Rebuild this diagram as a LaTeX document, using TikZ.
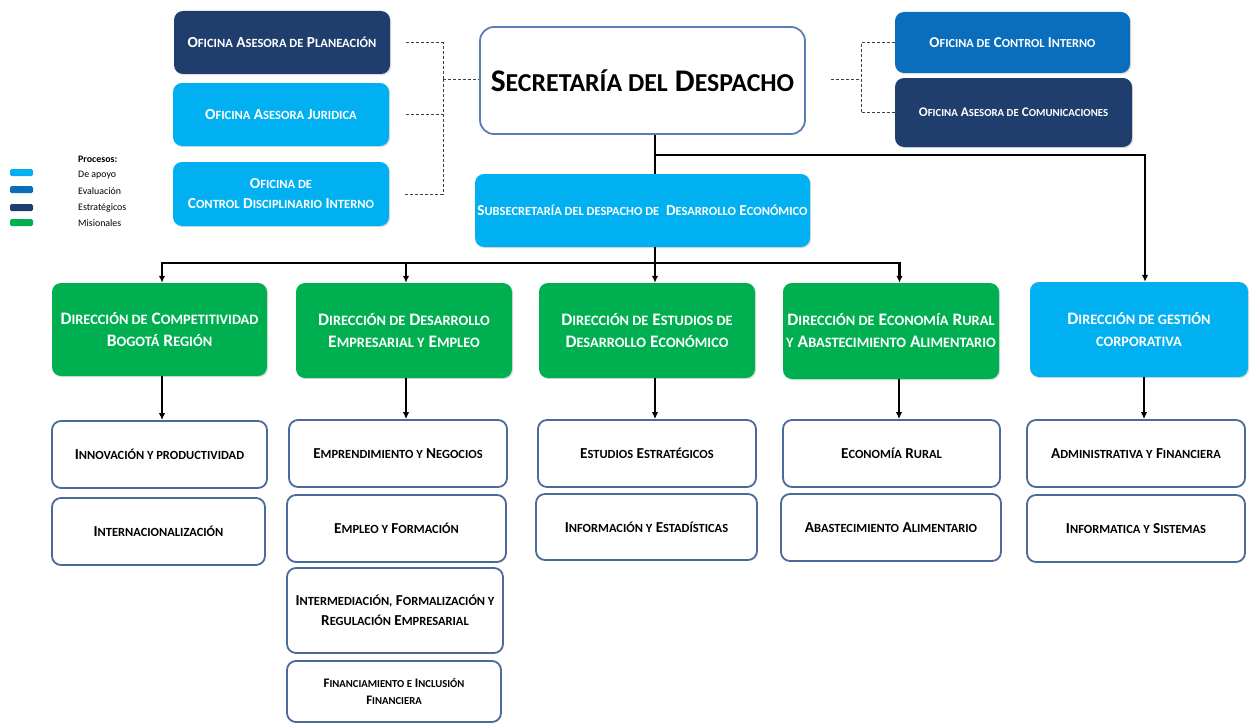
\documentclass[tikz,border=0pt]{standalone}
\usepackage{fontspec}
\setmainfont{Carlito}
\usetikzlibrary{arrows.meta,shadows}
\definecolor{navy}{HTML}{1F3E6E}
\definecolor{lblue}{HTML}{00B0F0}
\definecolor{mblue}{HTML}{0A6EBD}
\definecolor{mgreen}{HTML}{00B050}
\definecolor{bord}{HTML}{4A6A9C}
\definecolor{secbord}{HTML}{5B7DB5}
\makeatletter
\newcommand\lc[1]{{\fontsize{\dimexpr0.82\dimexpr\f@size pt\relax\relax}{\f@baselineskip}\selectfont #1}}
\makeatother
\tikzset{
  box/.style={rounded corners=9pt, align=center, inner sep=2pt},
  shad/.style={drop shadow={opacity=0.25, shadow xshift=1.2pt, shadow yshift=-1.2pt}},
  navybox/.style={box, shad, fill=navy, text=white},
  lbox/.style={box, shad, fill=lblue, text=white},
  mbox/.style={box, shad, fill=mblue, text=white},
  gbox/.style={box, shad, fill=mgreen, text=white, font=\fontsize{17.5}{22}\selectfont\bfseries},
  wbox/.style={box, draw=bord, line width=1.8pt, fill=white, text=black, font=\fontsize{15.2}{20}\selectfont\bfseries},
  ofont/.style={font=\fontsize{15.3}{20}\selectfont\bfseries},
  dline/.style={draw=black!75, line width=0.8pt, dash pattern=on 3pt off 2pt},
  conn/.style={draw=black, line width=2.2pt},
  arr/.style={conn, -{Latex[length=7pt,width=6.5pt]}},
  legbox/.style={rounded corners=1.5pt, minimum width=23pt, minimum height=7pt, inner sep=0pt},
  legtext/.style={anchor=west, inner sep=0pt, font=\fontsize{9.9}{11}\selectfont}
}
\begin{document}
\begin{tikzpicture}[x=1pt,y=-1pt]
\useasboundingbox[fill=white] (0,0) rectangle (1250,725);

% legend
\node[legtext] (lt0) at (78,159) {\textbf{Procesos:}};
\node[legbox, fill=lblue] (lg1) at (21.5,172.5) {};
\node[legbox, fill=mblue] (lg2) at (21.5,189.5) {};
\node[legbox, fill=navy] (lg3) at (21.5,207.5) {};
\node[legbox, fill=mgreen] (lg4) at (21.5,222.5) {};
\node[legtext] (lt1) at (78,175.5) {De apoyo};
\node[legtext] (lt2) at (78,191.5) {Evaluación};
\node[legtext] (lt3) at (78,207.5) {Estratégicos};
\node[legtext] (lt4) at (78,223.5) {Misionales};

% top offices
\node[navybox, ofont, minimum width=216pt, minimum height=63pt] (plan) at (282,42.5) {O\lc{FICINA} A\lc{SESORA DE} P\lc{LANEACIÓN}};
\node[lbox, ofont, minimum width=216pt, minimum height=63pt] (jur) at (281,114.5) {O\lc{FICINA} A\lc{SESORA} J\lc{URIDICA}};
\node[lbox, ofont, minimum width=216pt, minimum height=64pt] (cdi) at (281,194) {O\lc{FICINA DE}\\C\lc{ONTROL} D\lc{ISCIPLINARIO} I\lc{NTERNO}};
\node[box, draw=secbord, line width=1.8pt, fill=white, minimum width=325pt, minimum height=107pt, rounded corners=14pt, font=\fontsize{31.5}{38}\selectfont\bfseries] (sec) at (642.5,80.5) {S\lc{ECRETARÍA DEL} D\lc{ESPACHO}};
\node[mbox, minimum width=235pt, minimum height=61pt, font=\fontsize{15}{19}\selectfont\bfseries] (oci) at (1012.5,42.5) {O\lc{FICINA DE} C\lc{ONTROL} I\lc{NTERNO}};
\node[navybox, minimum width=237pt, minimum height=69pt, font=\fontsize{13.2}{17}\selectfont\bfseries] (com) at (1013.5,112.5) {O\lc{FICINA} A\lc{SESORA DE} C\lc{OMUNICACIONES}};
\node[lbox, minimum width=335pt, minimum height=73pt, inner sep=0pt, font=\fontsize{15.2}{20}\selectfont\bfseries] (sub) at (642.5,210.5) {S\lc{UBSECRETARÍA DEL DESPACHO DE}\ \ D\lc{ESARROLLO} E\lc{CONÓMICO}};

% directions
\node[gbox, minimum width=215pt, minimum height=93pt] (d1) at (159.5,329.5) {D\lc{IRECCIÓN DE} C\lc{OMPETITIVIDAD}\\B\lc{OGOTÁ} R\lc{EGIÓN}};
\node[gbox, minimum width=216pt, minimum height=95pt] (d2) at (404,330.5) {D\lc{IRECCIÓN DE} D\lc{ESARROLLO}\\E\lc{MPRESARIAL Y} E\lc{MPLEO}};
\node[gbox, minimum width=216pt, minimum height=95pt] (d3) at (647,330.5) {D\lc{IRECCIÓN DE} E\lc{STUDIOS DE}\\D\lc{ESARROLLO} E\lc{CONÓMICO}};
\node[gbox, minimum width=216pt, minimum height=96pt] (d4) at (891,331) {D\lc{IRECCIÓN DE} E\lc{CONOMÍA} R\lc{URAL}\\\lc{Y} A\lc{BASTECIMIENTO} A\lc{LIMENTARIO}};
\node[gbox, fill=lblue, minimum width=218pt, minimum height=95pt] (d5) at (1139,329.5) {D\lc{IRECCIÓN DE GESTIÓN}\\\lc{CORPORATIVA}};

% sub boxes
\node[wbox, minimum width=215pt, minimum height=67pt] (s11) at (159.5,454.5) {I\lc{NNOVACIÓN Y PRODUCTIVIDAD}};
\node[wbox, minimum width=213pt, minimum height=67pt] (s12) at (158.5,531.5) {I\lc{NTERNACIONALIZACIÓN}};
\node[wbox, minimum width=218pt, minimum height=67pt] (s21) at (398,453.5) {E\lc{MPRENDIMIENTO Y} N\lc{EGOCIOS}};
\node[wbox, minimum width=219pt, minimum height=67pt] (s22) at (396.5,528.5) {E\lc{MPLEO Y} F\lc{ORMACIÓN}};
\node[wbox, minimum width=216pt, minimum height=85pt] (s23) at (395,610.5) {I\lc{NTERMEDIACIÓN,} F\lc{ORMALIZACIÓN Y}\\R\lc{EGULACIÓN} E\lc{MPRESARIAL}};
\node[wbox, minimum width=214pt, minimum height=61pt, font=\fontsize{13}{17}\selectfont\bfseries] (s24) at (394,691.5) {F\lc{INANCIAMIENTO E} I\lc{NCLUSIÓN}\\F\lc{INANCIERA}};
\node[wbox, minimum width=218pt, minimum height=67pt] (s31) at (647,453.5) {E\lc{STUDIOS} E\lc{STRATÉGICOS}};
\node[wbox, minimum width=221pt, minimum height=66pt] (s32) at (646.5,527) {I\lc{NFORMACIÓN Y} E\lc{STADÍSTICAS}};
\node[wbox, minimum width=217pt, minimum height=67pt] (s41) at (891.5,453.5) {E\lc{CONOMÍA} R\lc{URAL}};
\node[wbox, minimum width=220pt, minimum height=67pt] (s42) at (891,527.5) {A\lc{BASTECIMIENTO} A\lc{LIMENTARIO}};
\node[wbox, minimum width=218pt, minimum height=67pt] (s51) at (1136,453.5) {A\lc{DMINISTRATIVA Y} F\lc{INANCIERA}};
\node[wbox, minimum width=218pt, minimum height=67pt] (s52) at (1136,528.5) {I\lc{NFORMATICA Y} S\lc{ISTEMAS}};

% dashed links
\coordinate (lj) at (443,79);
\coordinate (rj) at (861,79);
\draw[dline] ([xshift=16pt]plan.east) -| (lj);
\draw[dline] ([xshift=16pt]cdi.east) -| (lj);
\draw[dline] ([xshift=17pt]jur.east) -- (jur.east -| lj);
\draw[dline] (lj) -- (sec.west |- lj);
\draw[dline] ([xshift=25pt]sec.east |- rj) -- (rj);
\draw[dline] (oci.west) -| (rj) |- (com.west);

% solid tree
\coordinate (b1) at (655,155);
\coordinate (b2) at (655,263);
\draw[conn] (sec.south -| b1) -- (sub.north -| b1);
\draw[arr] (b1) -| ([xshift=6pt]d5.north);
\draw[conn] (sub.south -| b2) -- (b2);
\draw[arr] (b2) -| ([xshift=2.5pt]d1.north);
\draw[arr] (b2) -| ([xshift=2pt]d2.north);
\draw[arr] (b2) -- ([xshift=8pt]d3.north);
\draw[arr] (b2) -| ([xshift=8.5pt]d4.north);

\draw[arr] ([xshift=2.5pt]d1.south) -- ([xshift=2.5pt]s11.north);
\draw[arr] ([xshift=2pt]d2.south) -- ([xshift=8pt]s21.north);
\draw[arr] ([xshift=8pt]d3.south) -- ([xshift=8pt]s31.north);
\draw[arr] ([xshift=8pt]d4.south) -- ([xshift=7.5pt]s41.north);
\draw[arr] ([xshift=5pt]d5.south) -- ([xshift=8pt]s51.north);
\end{tikzpicture}
\end{document}
